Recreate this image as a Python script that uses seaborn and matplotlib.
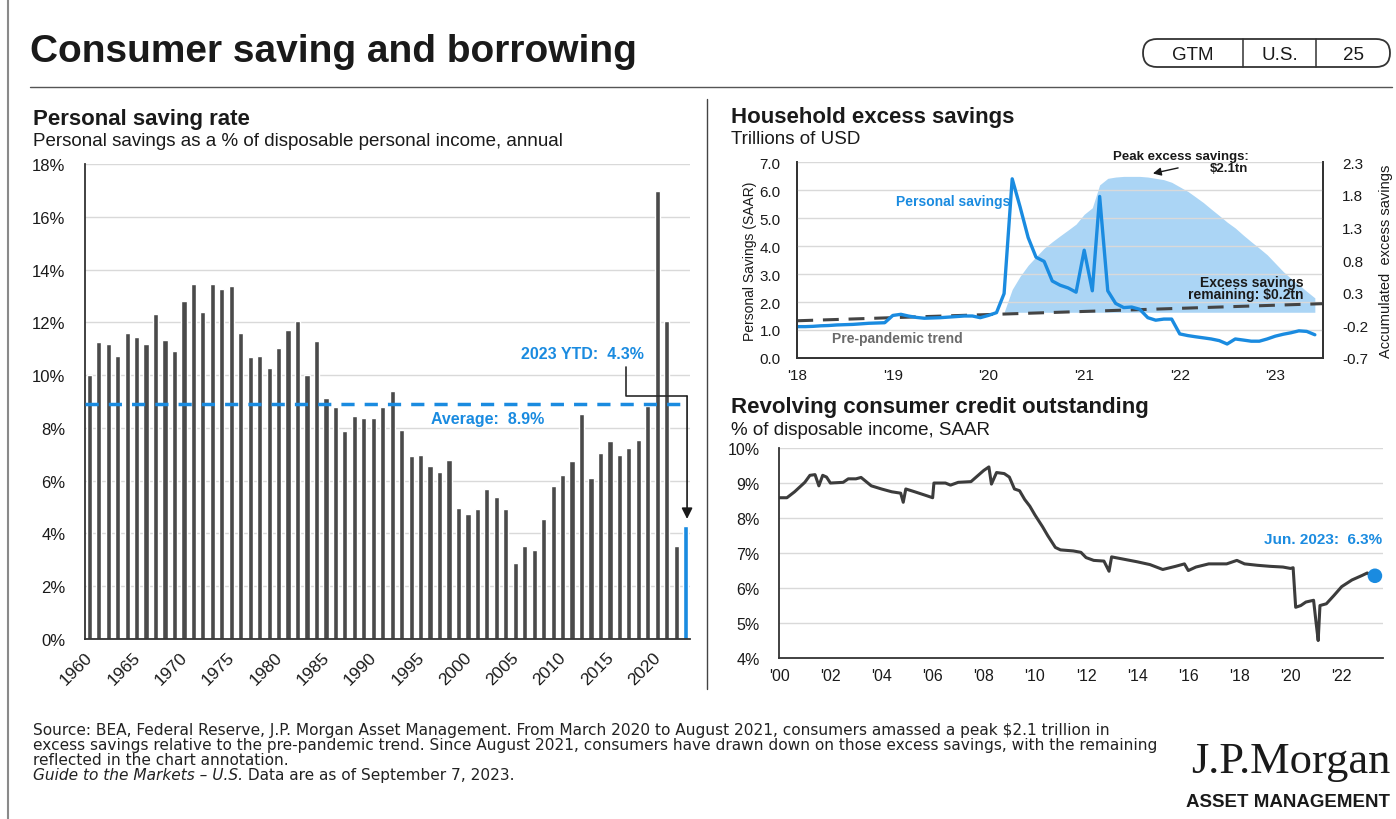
"""Consumer saving and borrowing - GTM U.S. page 25 recreation."""

import matplotlib

matplotlib.use("Agg")
import matplotlib.dates as mdates
import matplotlib.pyplot as plt
import pandas as pd
import seaborn as sns
from matplotlib.patches import FancyBboxPatch

sns.set_theme(style="white")
plt.rcParams["font.family"] = ["Liberation Sans", "DejaVu Sans"]

BLUE = "#1a8be0"
BAR_GRAY = "#4a4a4a"
LINE_GRAY = "#3c3c3c"
AREA_BLUE = "#abd5f5"
GRID = "#d9d9d9"
INK = "#1a1a1a"

# --- personal saving rate, annual (%) ---
years = list(range(1960, 2024))
saving_rate = [
    10.0, 11.27, 11.18, 10.71, 11.6, 11.46, 11.18, 12.32, 11.33, 10.91,
    12.82, 13.45, 12.38, 13.45, 13.26, 13.39, 11.6, 10.67, 10.71, 10.27,
    11.04, 11.72, 12.04, 10.02, 11.3, 9.13, 8.8, 7.89, 8.44, 8.36,
    8.36, 8.78, 9.41, 7.92, 6.92, 6.97, 6.54, 6.34, 6.78, 4.95,
    4.74, 4.93, 5.68, 5.37, 4.93, 2.87, 3.54, 3.37, 4.55, 5.81,
    6.21, 6.76, 8.53, 6.09, 7.05, 7.49, 6.97, 7.22, 7.55, 8.82,
    16.96, 12.04, 3.51, 4.3,
]
bar_kind = ["annual"] * 63 + ["ytd"]
average_rate = 8.9
year_labels = list(range(1960, 2021, 5))

# --- household excess savings (trillions USD) ---
savings_dates = pd.date_range("2018-01-01", periods=66, freq="MS")
personal_savings = [
    1.12, 1.12, 1.13, 1.15, 1.16, 1.18, 1.19, 1.2, 1.22, 1.24, 1.25, 1.26,
    1.52, 1.56, 1.5, 1.45, 1.42, 1.43, 1.44, 1.46, 1.48, 1.5, 1.5, 1.44,
    1.52, 1.62, 2.3, 6.4, 5.4, 4.3, 3.6, 3.45, 2.75, 2.6, 2.5, 2.35,
    3.85, 2.4, 5.77, 2.4, 1.95, 1.8, 1.82, 1.74, 1.44, 1.35, 1.39, 1.39,
    0.86, 0.8, 0.76, 0.72, 0.68, 0.62, 0.5, 0.68, 0.64, 0.6, 0.6, 0.68,
    0.78, 0.85, 0.9, 0.97, 0.95, 0.83,
]
trend_dates = pd.to_datetime(["2018-01-01", "2023-07-01"])
trend_values = [1.33, 1.94]
excess_dates = pd.date_range("2020-03-01", periods=40, freq="MS")
excess_savings = [
    0.0, 0.35, 0.55, 0.72, 0.85, 0.98, 1.08, 1.17, 1.26, 1.35,
    1.5, 1.6, 1.95, 2.05, 2.07, 2.08, 2.08, 2.08, 2.07, 2.05, 2.03, 1.99,
    1.92, 1.85, 1.77, 1.68, 1.58, 1.48, 1.38, 1.29, 1.18, 1.08, 0.98, 0.88,
    0.75, 0.62, 0.52, 0.42, 0.32, 0.22,
]
acc_ticks = [-0.7, -0.2, 0.3, 0.8, 1.3, 1.8, 2.3]

# --- revolving consumer credit (% of disposable income) ---
credit_year = [
    2000.0, 2000.3, 2000.6, 2001.0, 2001.2, 2001.4, 2001.55, 2001.7, 2001.85, 2002.0,
    2002.5, 2002.7, 2003.0, 2003.2, 2003.6, 2004.0, 2004.4, 2004.75, 2004.85, 2004.95,
    2005.3, 2005.8, 2006.0, 2006.05, 2006.5, 2006.7, 2007.0, 2007.5, 2008.0, 2008.2,
    2008.3, 2008.5, 2008.8, 2009.0, 2009.2, 2009.4, 2009.6, 2009.8, 2010.0, 2010.3,
    2010.5, 2010.8, 2011.0, 2011.5, 2011.8, 2012.0, 2012.3, 2012.7, 2012.9, 2013.0,
    2013.5, 2014.0, 2014.5, 2015.0, 2015.5, 2015.85, 2016.0, 2016.3, 2016.8, 2017.5,
    2017.9, 2018.2, 2018.7, 2019.2, 2019.7, 2020.0, 2020.1, 2020.2, 2020.4, 2020.6,
    2020.9, 2021.0, 2021.08, 2021.15, 2021.4, 2021.7, 2022.0, 2022.4, 2022.8, 2023.0,
    2023.2, 2023.3,
]
credit_pct = [
    8.58, 8.58, 8.75, 9.02, 9.22, 9.24, 8.92, 9.22, 9.17, 9.0,
    9.02, 9.12, 9.12, 9.16, 8.92, 8.83, 8.75, 8.71, 8.45, 8.83,
    8.75, 8.63, 8.58, 9.0, 9.0, 8.94, 9.02, 9.04, 9.36, 9.46,
    8.97, 9.3, 9.27, 9.17, 8.83, 8.78, 8.53, 8.34, 8.09, 7.75,
    7.5, 7.16, 7.09, 7.06, 7.02, 6.87, 6.79, 6.77, 6.48, 6.89,
    6.82, 6.75, 6.67, 6.53, 6.62, 6.69, 6.5, 6.6, 6.69, 6.69,
    6.79, 6.69, 6.65, 6.62, 6.6, 6.56, 6.58, 5.45, 5.5, 5.6,
    5.65, 5.0, 4.5, 5.5, 5.55, 5.79, 6.04, 6.23, 6.36, 6.43,
    6.33, 6.35,
]
credit_tick_years = list(range(2000, 2023, 2))


def style_axes(ax, spines=("left", "bottom")):
    for side, sp in ax.spines.items():
        sp.set_visible(side in spines)
        sp.set_color("#333333")
        sp.set_linewidth(1.3)
    ax.yaxis.grid(True, color=GRID, lw=1)
    ax.xaxis.grid(False)
    ax.set_axisbelow(True)
    ax.tick_params(axis="x", direction="out", length=4, width=1.2, color="#333333", colors=INK)
    ax.tick_params(axis="y", length=0, colors=INK)
    ax.set_xlabel("")


fig = plt.figure(figsize=(13.96, 8.2), dpi=100, facecolor="white")

# decoration layer in pixel coordinates
deco = fig.add_axes([0, 0, 1, 1], zorder=-5)
deco.set_xlim(0, 1396)
deco.set_ylim(820, 0)
deco.axis("off")

deco.plot([8, 8], [0, 820], color="#8a8a8a", lw=1.5)
deco.text(30, 52, "Consumer saving and borrowing", fontsize=28, fontweight="bold", color=INK, va="center")
deco.add_patch(FancyBboxPatch((1143, 40), 247, 28, boxstyle="round,pad=0,rounding_size=14",
                              fc="white", ec="#333333", lw=1.3))
deco.plot([1243, 1243], [40, 68], color="#333333", lw=1.1)
deco.plot([1316, 1316], [40, 68], color="#333333", lw=1.1)
for label, cx in [("GTM", 1193), ("U.S.", 1280), ("25", 1353)]:
    deco.text(cx, 55, label, fontsize=13.5, ha="center", va="center", color=INK)
deco.plot([30, 1392], [88, 88], color="#555555", lw=1)
deco.plot([707, 707], [100, 690], color="#444444", lw=1)

deco.text(33, 119, "Personal saving rate", fontsize=16, fontweight="bold", va="center", color=INK)
deco.text(33, 141, "Personal savings as a % of disposable personal income, annual", fontsize=13.5,
          va="center", color=INK)
deco.text(731, 117, "Household excess savings", fontsize=16, fontweight="bold", va="center", color=INK)
deco.text(731, 140, "Trillions of USD", fontsize=13.5, va="center", color=INK)
deco.text(731, 408, "Revolving consumer credit outstanding", fontsize=16, fontweight="bold",
          va="center", color=INK)
deco.text(731, 431, "% of disposable income, SAAR", fontsize=13.5, va="center", color=INK)

foot_font = ["DejaVu Sans"]
footer = [
    "Source: BEA, Federal Reserve, J.P. Morgan Asset Management. From March 2020 to August 2021, "
    "consumers amassed a peak $2.1 trillion in",
    "excess savings relative to the pre-pandemic trend. Since August 2021, consumers have drawn down "
    "on those excess savings, with the remaining",
    "reflected in the chart annotation.",
]
for i, line in enumerate(footer):
    deco.text(33, 731 + 15 * i, line, fontsize=11.1, family=foot_font, va="center", color="#222222")
guide = deco.text(33, 776, "Guide to the Markets \u2013 U.S.", fontsize=11.1, family=foot_font,
                  style="italic", va="center", color="#222222")
deco.annotate(" Data are as of September 7, 2023.", xy=(1, 0.5), xycoords=guide, fontsize=11.1,
              family=foot_font, va="center", color="#222222")
deco.text(1390, 762, "J.P.Morgan", fontsize=32, family=["Liberation Serif", "DejaVu Serif"],
          ha="right", va="center", color=INK)
deco.text(1390, 803, "ASSET MANAGEMENT", fontsize=13.5, fontweight="bold", ha="right",
          va="center", color=INK)

# --- left: personal saving rate bars ---
ax_bar = fig.add_axes([0.0609, 0.2195, 0.4333, 0.5793])
rate_df = pd.DataFrame({"year": years, "rate": saving_rate, "kind": bar_kind})
sns.barplot(data=rate_df, x="year", y="rate", hue="kind",
            palette={"annual": BAR_GRAY, "ytd": BLUE}, native_scale=True, dodge=False,
            width=0.55, saturation=1, errorbar=None, legend=False, ax=ax_bar)
style_axes(ax_bar)
ax_bar.set_xlim(1959.55, 2023.45)
ax_bar.set_ylim(0, 18)
ax_bar.set_yticks(range(0, 19, 2))
ax_bar.set_yticklabels([f"{v}%" for v in range(0, 19, 2)], fontsize=12)
ax_bar.tick_params(axis="y", pad=14)
ax_bar.set_xticks([y - 0.45 for y in year_labels])
ax_bar.set_xticklabels([str(y) for y in year_labels], fontsize=12.5, rotation=45,
                       ha="right", rotation_mode="anchor")
ax_bar.set_ylabel("")
ax_bar.axhline(average_rate, color=BLUE, lw=2.5, ls=(0, (3.8, 2.9)), zorder=3)
ax_bar.text(2002.1, 8.35, "Average:  8.9%", color=BLUE, fontsize=11.5, fontweight="bold",
            ha="center", va="center")
ax_bar.text(2012.1, 10.8, "2023 YTD:  4.3%", color=BLUE, fontsize=11.5, fontweight="bold",
            ha="center", va="center")
ax_bar.plot([2016.75, 2016.75, 2023.15], [10.3, 9.2, 9.2], color="#2a2a2a", lw=1.2, zorder=4)
ax_bar.annotate("", xy=(2023.15, 4.55), xytext=(2023.15, 9.2),
                arrowprops=dict(arrowstyle="-|>", color="#1a1a1a", lw=1.2, mutation_scale=16,
                                shrinkA=0, shrinkB=0), zorder=4)

# --- top right: household excess savings ---
ax_ex = fig.add_axes([0.5711, 0.5622, 0.3764, 0.2390])
ax_acc = ax_ex.twinx()
ax_ex.set_zorder(ax_acc.get_zorder() + 1)
ax_ex.patch.set_visible(False)
ax_acc.fill_between(excess_dates, 0, excess_savings, color=AREA_BLUE, lw=0)
sns.lineplot(x=trend_dates, y=trend_values, color="#444444", lw=2.2, ls=(0, (5.2, 3.2)), ax=ax_ex)
sns.lineplot(x=savings_dates, y=personal_savings, color=BLUE, lw=2.4, ax=ax_ex)
style_axes(ax_ex, spines=("left", "bottom", "right"))
ax_acc.spines["top"].set_visible(False)
ax_acc.spines["right"].set_color("#333333")
ax_acc.spines["right"].set_linewidth(1.3)
ax_acc.tick_params(axis="y", length=0, colors=INK, labelsize=11, pad=14)
ax_acc.grid(False)
ax_ex.set_xlim(pd.Timestamp("2018-01-01"), pd.Timestamp("2023-07-01"))
ax_ex.set_ylim(0, 7)
ax_acc.set_ylim(-0.7, 2.3)
ax_ex.set_yticks(range(0, 8))
ax_ex.set_yticklabels([f"{v:.1f}" for v in range(0, 8)], fontsize=11)
ax_ex.tick_params(axis="y", pad=12)
ax_acc.set_yticks(acc_ticks)
ax_acc.set_yticklabels([f"{v:.1f}" for v in acc_ticks])
ax_ex.xaxis.set_major_locator(mdates.YearLocator())
ax_ex.xaxis.set_major_formatter(mdates.DateFormatter("'%y"))
ax_ex.tick_params(axis="x", labelsize=11)
ax_ex.set_xlabel("")
ax_ex.set_ylabel("Personal Savings (SAAR)", fontsize=10, color=INK, labelpad=2)
ax_acc.set_ylabel("Accumulated  excess savings", fontsize=10.5, color=INK, labelpad=8)
ax_ex.text(pd.Timestamp("2020-03-25"), 5.62, "Personal savings", color=BLUE, fontsize=10,
           fontweight="bold", ha="right", va="center")
ax_ex.text(pd.Timestamp("2022-09-20"), 7.22, "Peak excess savings:", fontsize=9.5, fontweight="bold",
           ha="right", va="center", color=INK, clip_on=False)
ax_ex.text(pd.Timestamp("2022-09-20"), 6.78, "$2.1tn", fontsize=9.5, fontweight="bold",
           ha="right", va="center", color=INK)
ax_ex.annotate("", xy=(pd.Timestamp("2021-09-10"), 6.57), xytext=(pd.Timestamp("2022-01-05"), 6.81),
               arrowprops=dict(arrowstyle="-|>", color="#1a1a1a", lw=1, mutation_scale=12))
ax_ex.text(pd.Timestamp("2023-04-20"), 2.70, "Excess savings", fontsize=10, fontweight="bold",
           ha="right", va="center", color=INK)
ax_ex.text(pd.Timestamp("2023-04-20"), 2.29, "remaining: $0.2tn", fontsize=10, fontweight="bold",
           ha="right", va="center", color=INK)
ax_ex.text(pd.Timestamp("2018-05-15"), 0.70, "Pre-pandemic trend", fontsize=10, fontweight="bold",
           ha="left", va="center", color="#6a6a6a")

# --- bottom right: revolving consumer credit ---
ax_cr = fig.add_axes([0.5582, 0.1963, 0.4322, 0.2561])
sns.lineplot(x=credit_year, y=credit_pct, color=LINE_GRAY, lw=2.2, ax=ax_cr)
sns.scatterplot(x=credit_year[-1:], y=credit_pct[-1:], color=BLUE, s=110, edgecolor="none",
                zorder=5, ax=ax_cr)
style_axes(ax_cr)
ax_cr.set_xlim(2000, 2023.6)
ax_cr.set_ylim(4, 10)
ax_cr.set_yticks(range(4, 11))
ax_cr.set_yticklabels([f"{v}%" for v in range(4, 11)], fontsize=11.5)
ax_cr.tick_params(axis="y", pad=14)
ax_cr.set_xticks(credit_tick_years)
ax_cr.set_xticklabels([f"'{y % 100:02d}" for y in credit_tick_years], fontsize=11.5)
ax_cr.text(2023.6, 7.4, "Jun. 2023:  6.3%", color=BLUE, fontsize=11, fontweight="bold",
           ha="right", va="center")

fig.savefig("out.png", dpi=100, facecolor="white")
